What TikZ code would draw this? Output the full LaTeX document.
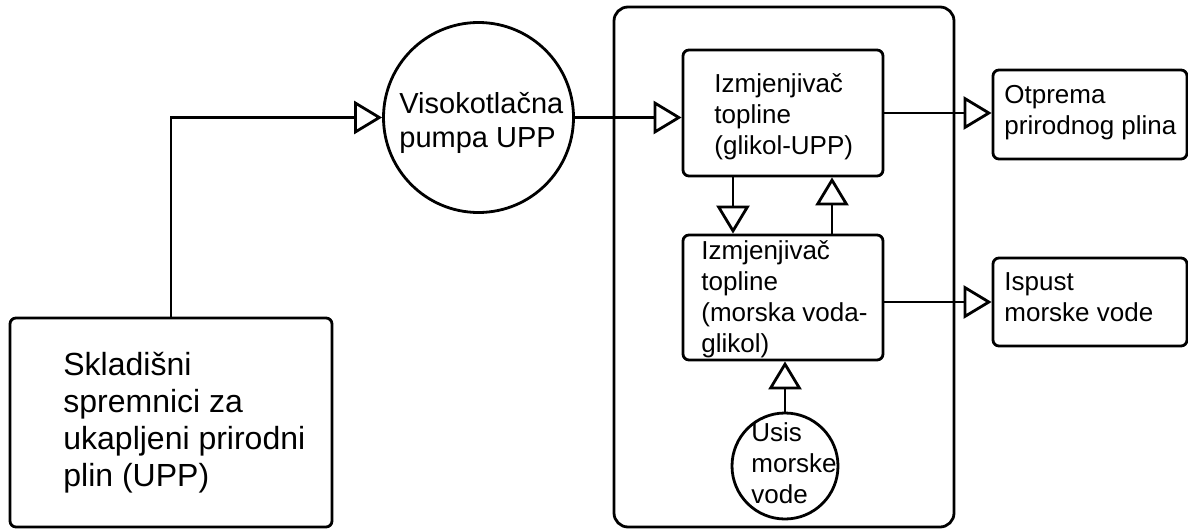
\documentclass[tikz,border=0pt]{standalone}
\usepackage{fontspec}
\setmainfont{Liberation Sans}
\usetikzlibrary{arrows.meta}
\begin{document}
\begin{tikzpicture}[x=1pt,y=-1pt,
  line width=2.8pt,
  box/.style={draw, rounded corners=6pt, inner sep=0pt},
  circ/.style={draw, circle, inner sep=0pt},
  txt/.style={inner sep=0pt, anchor=north west, align=left},
  bigf/.style={font=\fontsize{32}{37}\selectfont},
  midf/.style={font=\fontsize{29}{34}\selectfont},
  smf/.style={font=\fontsize{26}{31}\selectfont},
  flow/.style={-{Triangle[open, length=28pt, width=33pt, line width=2.8pt]}}
]
\useasboundingbox (0,0) rectangle (1188,530);
% container
\draw[rounded corners=14pt] (614,7) rectangle (954,527);
% nodes
\node[box, minimum width=322pt, minimum height=209pt] (store) at (171,422.5) {};
\node[circ, minimum size=190pt] (pump) at (478.5,117.5) {};
\node[box, minimum width=200pt, minimum height=126pt] (hx1) at (783,113) {};
\node[box, minimum width=200pt, minimum height=125pt] (hx2) at (783,297.5) {};
\node[circ, minimum size=106pt] (usis) at (785,466) {};
\node[box, minimum width=194pt, minimum height=89pt] (otp) at (1090,114.5) {};
\node[box, minimum width=194pt, minimum height=88pt] (isp) at (1090,302) {};
% texts
\node[txt, bigf] (tstore) at (62,351) {Skladišni\\spremnici za\\ukapljeni prirodni\\plin (UPP)};
\node[txt, midf] (tpump) at (398,91) {Visokotlačna\\pumpa UPP};
\node[txt, smf] (thx1) at (713,72) {Izmjenjivač\\topline\\(glikol-UPP)};
\node[txt, smf] (thx2) at (700,239) {Izmjenjivač\\topline\\(morska voda-\\glikol)};
\node[txt, smf] (tusis) at (750,421) {Usis\\morske\\vode};
\node[txt, smf] (totp) at (1003,84) {Otprema\\prirodnog plina};
\node[txt, smf] (tisp) at (1003,271) {Ispust\\morske vode};
% connectors
\draw[flow] (store.north) |- (pump.west);
\draw[flow] (pump.east) -- (pump.east -| hx1.west);
\draw[flow] (hx1.east) -- (hx1.east -| otp.west);
\draw[flow] ([xshift=-50pt]hx1.south) -- ([xshift=-50pt]hx2.north);
\draw[flow] ([xshift=49pt]hx2.north) -- ([xshift=49pt]hx1.south);
\draw[flow] (usis.north) -- (usis.north |- hx2.south);
\draw[flow] (isp.west -| hx2.east) -- (isp.west);
\end{tikzpicture}
\end{document}
